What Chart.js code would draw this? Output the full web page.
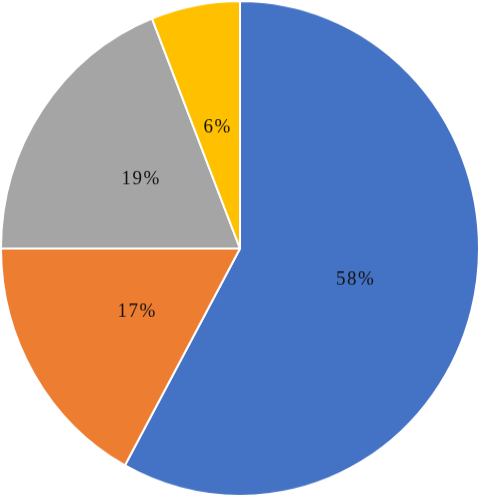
<!DOCTYPE html>
<html>
<head>
<meta charset="utf-8">
<script src="https://cdn.jsdelivr.net/npm/chart.js@4"></script>
<style>
  html, body { margin: 0; padding: 0; background: #fff; }
  canvas { display: block; }
</style>
</head>
<body>
<!-- drawn at 480x480 and stretched to 497px tall, as the pie in the picture is a bit taller than wide -->
<canvas id="pie-chart" width="480" height="480" style="width:480px;height:497px"></canvas>
<script>
let labels = ['A', 'B', 'C', 'D'];
let values = [58, 17, 19, 6];
let valueLabels = ['58%', '17%', '19%', '6%'];
let backgroundColors = ['#4472C4', '#ED7D31', '#A5A5A5', '#FFC000'];

// draw the percentage in the middle of each slice (like Excel's default)
let sliceLabels = {
  id: 'sliceLabels',
  afterDatasetsDraw(chart) {
    const ctx = chart.ctx;
    const meta = chart.getDatasetMeta(0);
    ctx.save();
    ctx.font = '19px "Liberation Serif", "Times New Roman", serif';
    ctx.letterSpacing = '1.5px';
    ctx.fillStyle = '#111111';
    ctx.textAlign = 'center';
    ctx.textBaseline = 'middle';
    meta.data.forEach((arc, i) => {
      const pos = arc.tooltipPosition();
      ctx.fillText(valueLabels[i], pos.x, pos.y);
    });
    ctx.restore();
  }
};

new Chart(document.getElementById('pie-chart'), {
  type: 'pie',
  data: {
    labels: labels,
    datasets: [{
      data: values,
      backgroundColor: backgroundColors,
      borderColor: '#ffffff',
      borderWidth: 2,
    }],
  },
  options: {
    responsive: false,
    animation: false,
    layout: { padding: 0 },
    plugins: {
      legend: { display: false },
      tooltip: { enabled: false },
    },
  },
  plugins: [sliceLabels],
});
</script>
</body>
</html>
